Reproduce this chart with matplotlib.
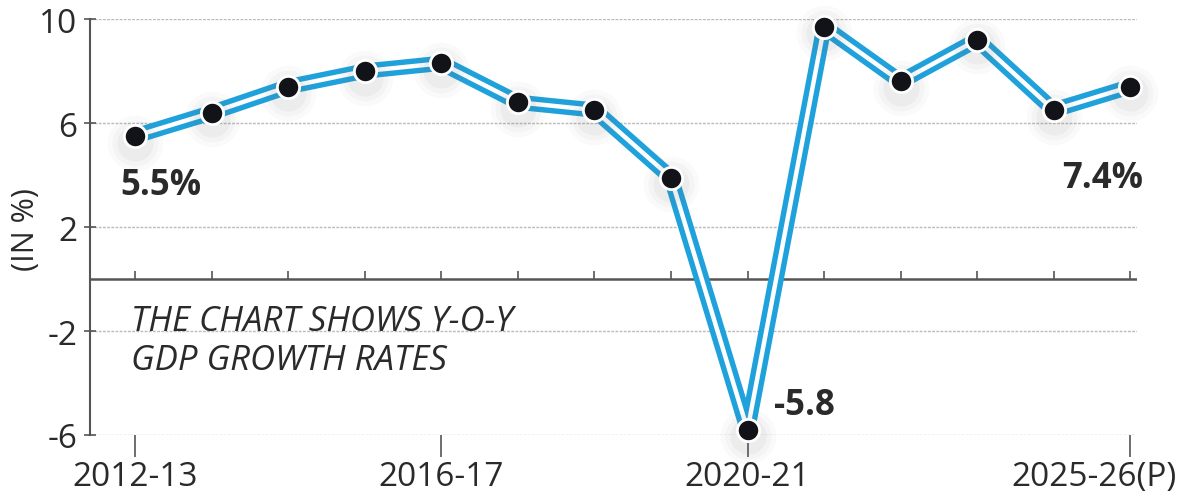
import matplotlib.pyplot as plt
import matplotlib.transforms as mtransforms

# GDP growth, year on year
years = ['2012-13', '2013-14', '2014-15', '2015-16', '2016-17', '2017-18', '2018-19',
         '2019-20', '2020-21', '2021-22', '2022-23', '2023-24', '2024-25', '2025-26(P)']
growth = [5.5, 6.4, 7.4, 8.0, 8.3, 6.8, 6.5, 3.9, -5.8, 9.7, 7.6, 9.2, 6.5, 7.4]
shown_labels = ['2012-13', '2016-17', '2020-21', '2025-26(P)']
yticks = [10, 6, 2, -2, -6]

blue = '#1fa2dc'
grey = '#555555'
text_col = '#2a2a2a'

plt.rcParams['font.family'] = ['Open Sans', 'DejaVu Sans']

fig = plt.figure(figsize=(11.9, 5.02), dpi=100)
ax = fig.add_axes([0.0756, 0.1315, 0.88, 0.8285])

x = list(range(len(years)))

# Setup limits and spines
ax.set_xlim(-0.59, len(years) - 1 + 0.09)
ax.set_ylim(-6, 10)
for side in ['top', 'right', 'bottom']:
    ax.spines[side].set_visible(False)
ax.spines['left'].set_color(grey)
ax.spines['left'].set_linewidth(1.5)

# Dotted grid lines
ax.set_yticks(yticks)
ax.set_yticklabels([str(v) for v in yticks], fontsize=24, color=text_col)
ax.yaxis.grid(True, color='#bbbbbb', linestyle=(0, (2, 1)), linewidth=1)
ax.tick_params(axis='y', direction='inout', length=8, width=1.2, color=grey, pad=5)

# Zero line with small ticks
ax.axhline(0, color=grey, linewidth=1.8, zorder=2)
ax.vlines(x, 0, 0.3, color=grey, linewidth=1.2, zorder=2)

# Bottom ticks only for shown labels
ax.set_xticks([years.index(l) for l in shown_labels])
ax.set_xticklabels(shown_labels, fontsize=24, color=text_col)
ax.tick_params(axis='x', direction='out', length=16, width=1.2, color=grey, pad=2)
# last label sits left of its tick so it stays inside the picture
last = ax.get_xticklabels()[-1]
last.set_transform(last.get_transform() +
                   mtransforms.ScaledTranslation(-36 / 100, 0, fig.dpi_scale_trans))

# Double line: thick blue, white core
ax.plot(x, growth, color=blue, linewidth=11, solid_joinstyle='round', zorder=3,
        clip_on=False)
ax.plot(x, growth, color='white', linewidth=3.2, solid_joinstyle='round', zorder=4,
        clip_on=False)

# Soft shadow under dots
shadow = [g - 0.25 for g in growth]
for s, a in [(40, 0.03), (33, 0.04), (26, 0.05)]:
    ax.plot(x, shadow, 'o', markersize=s, color='#666666', alpha=a,
            markeredgewidth=0, zorder=4.5, clip_on=False)
ax.plot(x, growth, 'o', markersize=16, color='#111318', markeredgecolor='white',
        markeredgewidth=2, zorder=5, clip_on=False)

# Value labels
ax.annotate(f'{growth[0]}%', (x[0], growth[0]), xytext=(-11, -35),
            textcoords='offset points', ha='left', va='center',
            fontsize=25, fontweight='bold', color=text_col)
ax.annotate(f'{growth[-1]}%', (x[-1], growth[-1]), xytext=(9, -66),
            textcoords='offset points', ha='right', va='center',
            fontsize=25, fontweight='bold', color=text_col)
low = growth.index(min(growth))
ax.annotate(f'{growth[low]}', (x[low], growth[low]), xytext=(19, 18),
            textcoords='offset points', ha='left', va='center',
            fontsize=25, fontweight='bold', color=text_col)

# Note
ax.text(-0.06, -2.35, 'THE CHART SHOWS Y-O-Y\nGDP GROWTH RATES', fontsize=25,
        fontstyle='italic', color=text_col, ha='left', va='center',
        linespacing=1.2)

# Axis title
fig.text(26 / 1190, 1 - 230 / 502, '(IN %)', rotation=90, ha='center', va='center',
         fontsize=22, color=text_col)

fig.savefig('out.png', dpi=100)
plt.close()
